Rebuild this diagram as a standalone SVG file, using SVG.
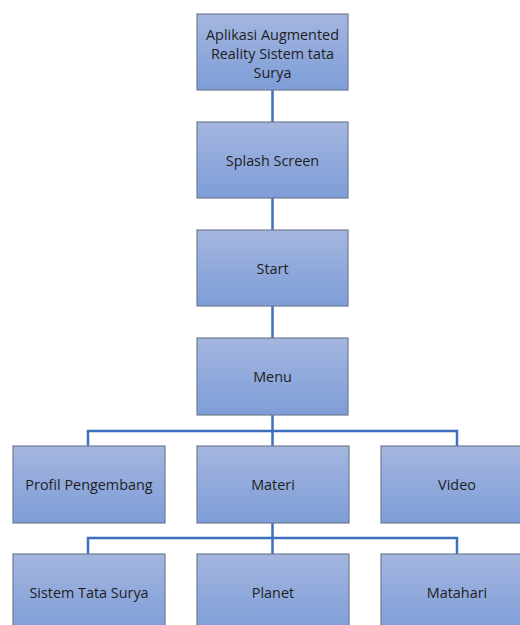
<svg xmlns="http://www.w3.org/2000/svg" width="520" height="625" viewBox="0 0 520 625">
<defs>
<linearGradient id="g" x1="0" y1="0" x2="0" y2="1">
<stop offset="0" stop-color="#a4b6df"/>
<stop offset="1" stop-color="#7e9dd8"/>
</linearGradient>
<style>
.box{fill:url(#g);stroke:#6f7c92;stroke-width:1.2}
.t{font-family:"Open Sans","Liberation Sans",sans-serif;font-size:14.4px;fill:#1e1e1e;text-anchor:middle;dominant-baseline:central}
.c{fill:none;stroke:#3c6fbd;stroke-width:2.5}
</style>
</defs>
<rect width="520" height="625" fill="#fff"/>
<g id="connectors">
<path class="c" d="M272.5 90V122M272.5 198V230M272.5 306V338M272.5 415V446M88 446V431H457V446"/>
<path class="c" d="M272.5 523V554M88 554V538H457V554"/>
</g>
<g id="n1"><rect class="box" x="197" y="14" width="151" height="76"/>
<text class="t" x="272.5" y="34">Aplikasi Augmented</text>
<text class="t" x="272.5" y="53">Reality Sistem tata</text>
<text class="t" x="272.5" y="72">Surya</text></g>
<g id="n2"><rect class="box" x="197" y="122" width="151" height="76"/><text class="t" x="272.5" y="160">Splash Screen</text></g>
<g id="n3"><rect class="box" x="197" y="230" width="151" height="76"/><text class="t" x="272.5" y="268">Start</text></g>
<g id="n4"><rect class="box" x="197" y="338" width="151" height="77"/><text class="t" x="272.5" y="376">Menu</text></g>
<g id="n5"><rect class="box" x="13" y="446" width="152" height="77"/><text class="t" x="89" y="484">Profil Pengembang</text></g>
<g id="n6"><rect class="box" x="197" y="446" width="152" height="77"/><text class="t" x="273" y="484">Materi</text></g>
<g id="n7"><rect class="box" x="381" y="446" width="152" height="77"/><text class="t" x="457" y="484">Video</text></g>
<g id="n8"><rect class="box" x="13" y="554" width="152" height="77"/><text class="t" x="89" y="592">Sistem Tata Surya</text></g>
<g id="n9"><rect class="box" x="197" y="554" width="152" height="77"/><text class="t" x="273" y="592">Planet</text></g>
<g id="n10"><rect class="box" x="381" y="554" width="152" height="77"/><text class="t" x="457" y="592">Matahari</text></g>
</svg>
